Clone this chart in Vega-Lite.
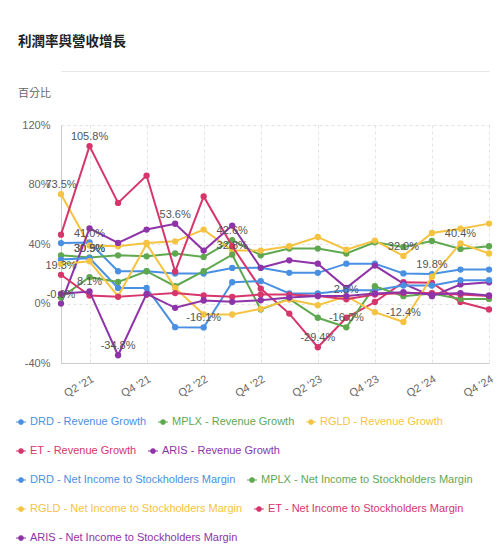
{
  "$schema": "https://vega.github.io/schema/vega-lite/v6.json",
  "width": 428,
  "height": 238,
  "autosize": {"type": "none"},
  "padding": {"left": 61, "top": 125, "right": 13, "bottom": 193},
  "background": "white",
  "title": {
    "text": "利潤率與營收增長",
    "subtitle": "百分比",
    "anchor": "start",
    "frame": "group",
    "dx": -43,
    "offset": -28,
    "font": "Noto Sans CJK TC",
    "fontSize": 13.5,
    "fontWeight": "bold",
    "color": "#222222",
    "subtitleFont": "Noto Sans CJK TC",
    "subtitleFontSize": 11,
    "subtitleColor": "#666666",
    "subtitlePadding": 40
  },
  "data": {
    "values": [
      {"q": "Q1 '21", "s": "DRD - Revenue Growth", "v": 40.6},
      {"q": "Q2 '21", "s": "DRD - Revenue Growth", "v": 41.0, "lbl": "41.0%"},
      {"q": "Q3 '21", "s": "DRD - Revenue Growth", "v": 21.7},
      {"q": "Q4 '21", "s": "DRD - Revenue Growth", "v": 21.7},
      {"q": "Q1 '22", "s": "DRD - Revenue Growth", "v": 20.1},
      {"q": "Q2 '22", "s": "DRD - Revenue Growth", "v": 20.1},
      {"q": "Q3 '22", "s": "DRD - Revenue Growth", "v": 23.9},
      {"q": "Q4 '22", "s": "DRD - Revenue Growth", "v": 24.0},
      {"q": "Q1 '23", "s": "DRD - Revenue Growth", "v": 20.6},
      {"q": "Q2 '23", "s": "DRD - Revenue Growth", "v": 20.6},
      {"q": "Q3 '23", "s": "DRD - Revenue Growth", "v": 26.8},
      {"q": "Q4 '23", "s": "DRD - Revenue Growth", "v": 26.8},
      {"q": "Q1 '24", "s": "DRD - Revenue Growth", "v": 20.2},
      {"q": "Q2 '24", "s": "DRD - Revenue Growth", "v": 19.8, "lbl": "19.8%"},
      {"q": "Q3 '24", "s": "DRD - Revenue Growth", "v": 22.8},
      {"q": "Q4 '24", "s": "DRD - Revenue Growth", "v": 22.8},

      {"q": "Q1 '21", "s": "MPLX - Revenue Growth", "v": 32.4},
      {"q": "Q2 '21", "s": "MPLX - Revenue Growth", "v": 30.9, "lbl": "30.9%"},
      {"q": "Q3 '21", "s": "MPLX - Revenue Growth", "v": 32.4},
      {"q": "Q4 '21", "s": "MPLX - Revenue Growth", "v": 31.7},
      {"q": "Q1 '22", "s": "MPLX - Revenue Growth", "v": 33.6},
      {"q": "Q2 '22", "s": "MPLX - Revenue Growth", "v": 31.3},
      {"q": "Q3 '22", "s": "MPLX - Revenue Growth", "v": 42.6, "lbl": "42.6%"},
      {"q": "Q4 '22", "s": "MPLX - Revenue Growth", "v": 32.4},
      {"q": "Q1 '23", "s": "MPLX - Revenue Growth", "v": 36.9},
      {"q": "Q2 '23", "s": "MPLX - Revenue Growth", "v": 36.9},
      {"q": "Q3 '23", "s": "MPLX - Revenue Growth", "v": 33.6},
      {"q": "Q4 '23", "s": "MPLX - Revenue Growth", "v": 41.2},
      {"q": "Q1 '24", "s": "MPLX - Revenue Growth", "v": 38.0},
      {"q": "Q2 '24", "s": "MPLX - Revenue Growth", "v": 42.0},
      {"q": "Q3 '24", "s": "MPLX - Revenue Growth", "v": 36.7},
      {"q": "Q4 '24", "s": "MPLX - Revenue Growth", "v": 38.5},

      {"q": "Q1 '21", "s": "RGLD - Revenue Growth", "v": 73.5, "lbl": "73.5%"},
      {"q": "Q2 '21", "s": "RGLD - Revenue Growth", "v": 39.0},
      {"q": "Q3 '21", "s": "RGLD - Revenue Growth", "v": 38.5},
      {"q": "Q4 '21", "s": "RGLD - Revenue Growth", "v": 40.7},
      {"q": "Q1 '22", "s": "RGLD - Revenue Growth", "v": 41.8},
      {"q": "Q2 '22", "s": "RGLD - Revenue Growth", "v": 49.7},
      {"q": "Q3 '22", "s": "RGLD - Revenue Growth", "v": 35.6},
      {"q": "Q4 '22", "s": "RGLD - Revenue Growth", "v": 35.6},
      {"q": "Q1 '23", "s": "RGLD - Revenue Growth", "v": 38.5},
      {"q": "Q2 '23", "s": "RGLD - Revenue Growth", "v": 44.7},
      {"q": "Q3 '23", "s": "RGLD - Revenue Growth", "v": 36.2},
      {"q": "Q4 '23", "s": "RGLD - Revenue Growth", "v": 42.3},
      {"q": "Q1 '24", "s": "RGLD - Revenue Growth", "v": 32.0, "lbl": "32.0%"},
      {"q": "Q2 '24", "s": "RGLD - Revenue Growth", "v": 47.4},
      {"q": "Q3 '24", "s": "RGLD - Revenue Growth", "v": 50.3},
      {"q": "Q4 '24", "s": "RGLD - Revenue Growth", "v": 53.7},

      {"q": "Q1 '21", "s": "ET - Revenue Growth", "v": 46.3},
      {"q": "Q2 '21", "s": "ET - Revenue Growth", "v": 105.8, "lbl": "105.8%"},
      {"q": "Q3 '21", "s": "ET - Revenue Growth", "v": 67.6},
      {"q": "Q4 '21", "s": "ET - Revenue Growth", "v": 86.0},
      {"q": "Q1 '22", "s": "ET - Revenue Growth", "v": 21.5},
      {"q": "Q2 '22", "s": "ET - Revenue Growth", "v": 72.0},
      {"q": "Q3 '22", "s": "ET - Revenue Growth", "v": 38.5},
      {"q": "Q4 '22", "s": "ET - Revenue Growth", "v": 10.0},
      {"q": "Q1 '23", "s": "ET - Revenue Growth", "v": -6.8},
      {"q": "Q2 '23", "s": "ET - Revenue Growth", "v": -29.4, "lbl": "-29.4%"},
      {"q": "Q3 '23", "s": "ET - Revenue Growth", "v": -9.6},
      {"q": "Q4 '23", "s": "ET - Revenue Growth", "v": 1.0},
      {"q": "Q1 '24", "s": "ET - Revenue Growth", "v": 14.3},
      {"q": "Q2 '24", "s": "ET - Revenue Growth", "v": 13.9},
      {"q": "Q3 '24", "s": "ET - Revenue Growth", "v": 1.0},
      {"q": "Q4 '24", "s": "ET - Revenue Growth", "v": -4.0},

      {"q": "Q1 '21", "s": "ARIS - Revenue Growth", "v": -0.04, "lbl": "-0.0%"},
      {"q": "Q2 '21", "s": "ARIS - Revenue Growth", "v": 50.5},
      {"q": "Q3 '21", "s": "ARIS - Revenue Growth", "v": 40.7},
      {"q": "Q4 '21", "s": "ARIS - Revenue Growth", "v": 49.7},
      {"q": "Q1 '22", "s": "ARIS - Revenue Growth", "v": 53.6, "lbl": "53.6%"},
      {"q": "Q2 '22", "s": "ARIS - Revenue Growth", "v": 35.6},
      {"q": "Q3 '22", "s": "ARIS - Revenue Growth", "v": 52.4},
      {"q": "Q4 '22", "s": "ARIS - Revenue Growth", "v": 24.0},
      {"q": "Q1 '23", "s": "ARIS - Revenue Growth", "v": 29.0},
      {"q": "Q2 '23", "s": "ARIS - Revenue Growth", "v": 26.8},
      {"q": "Q3 '23", "s": "ARIS - Revenue Growth", "v": 10.5},
      {"q": "Q4 '23", "s": "ARIS - Revenue Growth", "v": 25.5},
      {"q": "Q1 '24", "s": "ARIS - Revenue Growth", "v": 13.4},
      {"q": "Q2 '24", "s": "ARIS - Revenue Growth", "v": 4.9},
      {"q": "Q3 '24", "s": "ARIS - Revenue Growth", "v": 12.8},
      {"q": "Q4 '24", "s": "ARIS - Revenue Growth", "v": 14.3},

      {"q": "Q1 '21", "s": "DRD - Net Income to Stockholders Margin", "v": 29.5},
      {"q": "Q2 '21", "s": "DRD - Net Income to Stockholders Margin", "v": 30.5, "lbl": "30.5%"},
      {"q": "Q3 '21", "s": "DRD - Net Income to Stockholders Margin", "v": 10.5},
      {"q": "Q4 '21", "s": "DRD - Net Income to Stockholders Margin", "v": 10.5},
      {"q": "Q1 '22", "s": "DRD - Net Income to Stockholders Margin", "v": -15.9},
      {"q": "Q2 '22", "s": "DRD - Net Income to Stockholders Margin", "v": -16.1, "lbl": "-16.1%"},
      {"q": "Q3 '22", "s": "DRD - Net Income to Stockholders Margin", "v": 14.3},
      {"q": "Q4 '22", "s": "DRD - Net Income to Stockholders Margin", "v": 15.0},
      {"q": "Q1 '23", "s": "DRD - Net Income to Stockholders Margin", "v": 6.7},
      {"q": "Q2 '23", "s": "DRD - Net Income to Stockholders Margin", "v": 6.7},
      {"q": "Q3 '23", "s": "DRD - Net Income to Stockholders Margin", "v": 8.9},
      {"q": "Q4 '23", "s": "DRD - Net Income to Stockholders Margin", "v": 8.9},
      {"q": "Q1 '24", "s": "DRD - Net Income to Stockholders Margin", "v": 12.1},
      {"q": "Q2 '24", "s": "DRD - Net Income to Stockholders Margin", "v": 12.1},
      {"q": "Q3 '24", "s": "DRD - Net Income to Stockholders Margin", "v": 15.7},
      {"q": "Q4 '24", "s": "DRD - Net Income to Stockholders Margin", "v": 15.7},

      {"q": "Q1 '21", "s": "MPLX - Net Income to Stockholders Margin", "v": 4.0},
      {"q": "Q2 '21", "s": "MPLX - Net Income to Stockholders Margin", "v": 17.7},
      {"q": "Q3 '21", "s": "MPLX - Net Income to Stockholders Margin", "v": 14.5},
      {"q": "Q4 '21", "s": "MPLX - Net Income to Stockholders Margin", "v": 21.7},
      {"q": "Q1 '22", "s": "MPLX - Net Income to Stockholders Margin", "v": 11.6},
      {"q": "Q2 '22", "s": "MPLX - Net Income to Stockholders Margin", "v": 21.7},
      {"q": "Q3 '22", "s": "MPLX - Net Income to Stockholders Margin", "v": 32.8, "lbl": "32.8%"},
      {"q": "Q4 '22", "s": "MPLX - Net Income to Stockholders Margin", "v": -4.0},
      {"q": "Q1 '23", "s": "MPLX - Net Income to Stockholders Margin", "v": 3.1},
      {"q": "Q2 '23", "s": "MPLX - Net Income to Stockholders Margin", "v": -9.6},
      {"q": "Q3 '23", "s": "MPLX - Net Income to Stockholders Margin", "v": -16.0, "lbl": "-16.0%"},
      {"q": "Q4 '23", "s": "MPLX - Net Income to Stockholders Margin", "v": 11.6},
      {"q": "Q1 '24", "s": "MPLX - Net Income to Stockholders Margin", "v": 4.9},
      {"q": "Q2 '24", "s": "MPLX - Net Income to Stockholders Margin", "v": 6.7},
      {"q": "Q3 '24", "s": "MPLX - Net Income to Stockholders Margin", "v": 3.1},
      {"q": "Q4 '24", "s": "MPLX - Net Income to Stockholders Margin", "v": 3.1},

      {"q": "Q1 '21", "s": "RGLD - Net Income to Stockholders Margin", "v": 26.6},
      {"q": "Q2 '21", "s": "RGLD - Net Income to Stockholders Margin", "v": 28.4},
      {"q": "Q3 '21", "s": "RGLD - Net Income to Stockholders Margin", "v": 4.9},
      {"q": "Q4 '21", "s": "RGLD - Net Income to Stockholders Margin", "v": 40.0},
      {"q": "Q1 '22", "s": "RGLD - Net Income to Stockholders Margin", "v": 10.5},
      {"q": "Q2 '22", "s": "RGLD - Net Income to Stockholders Margin", "v": -7.4},
      {"q": "Q3 '22", "s": "RGLD - Net Income to Stockholders Margin", "v": -7.4},
      {"q": "Q4 '22", "s": "RGLD - Net Income to Stockholders Margin", "v": -3.6},
      {"q": "Q1 '23", "s": "RGLD - Net Income to Stockholders Margin", "v": 2.7},
      {"q": "Q2 '23", "s": "RGLD - Net Income to Stockholders Margin", "v": -1.1},
      {"q": "Q3 '23", "s": "RGLD - Net Income to Stockholders Margin", "v": 4.9},
      {"q": "Q4 '23", "s": "RGLD - Net Income to Stockholders Margin", "v": -5.8},
      {"q": "Q1 '24", "s": "RGLD - Net Income to Stockholders Margin", "v": -12.4, "lbl": "-12.4%"},
      {"q": "Q2 '24", "s": "RGLD - Net Income to Stockholders Margin", "v": 18.0},
      {"q": "Q3 '24", "s": "RGLD - Net Income to Stockholders Margin", "v": 40.4, "lbl": "40.4%"},
      {"q": "Q4 '24", "s": "RGLD - Net Income to Stockholders Margin", "v": 33.6},

      {"q": "Q1 '21", "s": "ET - Net Income to Stockholders Margin", "v": 19.3, "lbl": "19.3%"},
      {"q": "Q2 '21", "s": "ET - Net Income to Stockholders Margin", "v": 5.4},
      {"q": "Q3 '21", "s": "ET - Net Income to Stockholders Margin", "v": 4.5},
      {"q": "Q4 '21", "s": "ET - Net Income to Stockholders Margin", "v": 5.8},
      {"q": "Q1 '22", "s": "ET - Net Income to Stockholders Margin", "v": 7.0},
      {"q": "Q2 '22", "s": "ET - Net Income to Stockholders Margin", "v": 5.4},
      {"q": "Q3 '22", "s": "ET - Net Income to Stockholders Margin", "v": 4.5},
      {"q": "Q4 '22", "s": "ET - Net Income to Stockholders Margin", "v": 6.0},
      {"q": "Q1 '23", "s": "ET - Net Income to Stockholders Margin", "v": 6.0},
      {"q": "Q2 '23", "s": "ET - Net Income to Stockholders Margin", "v": 5.0},
      {"q": "Q3 '23", "s": "ET - Net Income to Stockholders Margin", "v": 2.8, "lbl": "2.8%"},
      {"q": "Q4 '23", "s": "ET - Net Income to Stockholders Margin", "v": 6.0},
      {"q": "Q1 '24", "s": "ET - Net Income to Stockholders Margin", "v": 7.0},
      {"q": "Q2 '24", "s": "ET - Net Income to Stockholders Margin", "v": 7.0},
      {"q": "Q3 '24", "s": "ET - Net Income to Stockholders Margin", "v": 6.0},
      {"q": "Q4 '24", "s": "ET - Net Income to Stockholders Margin", "v": 5.0},

      {"q": "Q1 '21", "s": "ARIS - Net Income to Stockholders Margin", "v": 6.5},
      {"q": "Q2 '21", "s": "ARIS - Net Income to Stockholders Margin", "v": 8.1, "lbl": "8.1%"},
      {"q": "Q3 '21", "s": "ARIS - Net Income to Stockholders Margin", "v": -34.8, "lbl": "-34.8%"},
      {"q": "Q4 '21", "s": "ARIS - Net Income to Stockholders Margin", "v": 6.5},
      {"q": "Q1 '22", "s": "ARIS - Net Income to Stockholders Margin", "v": -2.9},
      {"q": "Q2 '22", "s": "ARIS - Net Income to Stockholders Margin", "v": 2.0},
      {"q": "Q3 '22", "s": "ARIS - Net Income to Stockholders Margin", "v": 1.1},
      {"q": "Q4 '22", "s": "ARIS - Net Income to Stockholders Margin", "v": 2.2},
      {"q": "Q1 '23", "s": "ARIS - Net Income to Stockholders Margin", "v": 4.0},
      {"q": "Q2 '23", "s": "ARIS - Net Income to Stockholders Margin", "v": 5.0},
      {"q": "Q3 '23", "s": "ARIS - Net Income to Stockholders Margin", "v": 5.0},
      {"q": "Q4 '23", "s": "ARIS - Net Income to Stockholders Margin", "v": 6.7},
      {"q": "Q1 '24", "s": "ARIS - Net Income to Stockholders Margin", "v": 7.6},
      {"q": "Q2 '24", "s": "ARIS - Net Income to Stockholders Margin", "v": 6.0},
      {"q": "Q3 '24", "s": "ARIS - Net Income to Stockholders Margin", "v": 7.0},
      {"q": "Q4 '24", "s": "ARIS - Net Income to Stockholders Margin", "v": 5.4}
    ]
  },
  "encoding": {
    "y": {
      "field": "v",
      "type": "quantitative",
      "scale": {"domain": [-40, 120], "nice": false},
      "axis": {
        "title": null,
        "values": [-40, 0, 40, 80, 120],
        "labelExpr": "datum.value + '%'",
        "labelPadding": 11,
        "ticks": false,
        "grid": true
      }
    }
  },
  "layer": [
    {
      "encoding": {
        "x": {
          "field": "q",
          "type": "ordinal",
          "sort": null,
          "scale": {
            "type": "point",
            "padding": 0,
            "domain": ["Q1 '21", "Q2 '21", "Q3 '21", "Q4 '21", "Q1 '22", "Q2 '22", "Q3 '22", "Q4 '22", "Q1 '23", "Q2 '23", "Q3 '23", "Q4 '23", "Q1 '24", "Q2 '24", "Q3 '24", "Q4 '24"]
          },
          "axis": {
            "title": null,
            "values": ["Q2 '21", "Q4 '21", "Q2 '22", "Q4 '22", "Q2 '23", "Q4 '23", "Q2 '24", "Q4 '24"],
            "labelAngle": -30,
            "labelAlign": "right",
            "labelBaseline": "top",
            "labelPadding": 10,
            "ticks": false,
            "grid": true
          }
        }
      },
      "layer": [
        {
          "transform": [{"filter": {"field": "s", "oneOf": ["DRD - Revenue Growth", "MPLX - Revenue Growth", "RGLD - Revenue Growth"]}}],
          "mark": {"type": "line", "strokeWidth": 2, "point": {"filled": true, "size": 40}},
          "encoding": {
            "color": {
              "field": "s",
              "type": "nominal",
              "scale": {"domain": ["DRD - Revenue Growth", "MPLX - Revenue Growth", "RGLD - Revenue Growth"], "range": ["#4a90e2", "#5fa850", "#f5c342"]},
              "legend": {
                "legendX": -46, "legendY": 291,
                "symbolType": "M-1,0L-0.45,0M0.45,0L1,0M-0.45,0A0.45,0.45,0,1,1,0.45,0A0.45,0.45,0,1,1,-0.45,0Z",
                "encode": {
                  "symbols": {"update": {"fill": {"value": "white"}, "strokeWidth": {"value": 1.2}}},
                  "labels": {"update": {"fill": {"signal": "indexof(datum.value,'DRD')==0?'#4a90e2':indexof(datum.value,'MPLX')==0?'#5fa850':indexof(datum.value,'RGLD')==0?'#f5c342':indexof(datum.value,'ET')==0?'#d6366a':'#8e34a8'"}}}
                }
              }
            }
          }
        },
        {
          "transform": [{"filter": {"field": "s", "oneOf": ["ET - Revenue Growth", "ARIS - Revenue Growth"]}}],
          "mark": {"type": "line", "strokeWidth": 2, "point": {"filled": true, "size": 40}},
          "encoding": {
            "color": {
              "field": "s",
              "type": "nominal",
              "scale": {"domain": ["ET - Revenue Growth", "ARIS - Revenue Growth"], "range": ["#d6366a", "#8e34a8"]},
              "legend": {
                "legendX": -46, "legendY": 320,
                "symbolType": "M-1,0L-0.45,0M0.45,0L1,0M-0.45,0A0.45,0.45,0,1,1,0.45,0A0.45,0.45,0,1,1,-0.45,0Z",
                "encode": {
                  "symbols": {"update": {"fill": {"value": "white"}, "strokeWidth": {"value": 1.2}}},
                  "labels": {"update": {"fill": {"signal": "indexof(datum.value,'DRD')==0?'#4a90e2':indexof(datum.value,'MPLX')==0?'#5fa850':indexof(datum.value,'RGLD')==0?'#f5c342':indexof(datum.value,'ET')==0?'#d6366a':'#8e34a8'"}}}
                }
              }
            }
          }
        },
        {
          "transform": [{"filter": {"field": "s", "oneOf": ["DRD - Net Income to Stockholders Margin", "MPLX - Net Income to Stockholders Margin"]}}],
          "mark": {"type": "line", "strokeWidth": 2, "point": {"filled": true, "size": 40}},
          "encoding": {
            "color": {
              "field": "s",
              "type": "nominal",
              "scale": {"domain": ["DRD - Net Income to Stockholders Margin", "MPLX - Net Income to Stockholders Margin"], "range": ["#4a90e2", "#5fa850"]},
              "legend": {
                "legendX": -46, "legendY": 349,
                "symbolType": "M-1,0L-0.45,0M0.45,0L1,0M-0.45,0A0.45,0.45,0,1,1,0.45,0A0.45,0.45,0,1,1,-0.45,0Z",
                "encode": {
                  "symbols": {"update": {"fill": {"value": "white"}, "strokeWidth": {"value": 1.2}}},
                  "labels": {"update": {"fill": {"signal": "indexof(datum.value,'DRD')==0?'#4a90e2':indexof(datum.value,'MPLX')==0?'#5fa850':indexof(datum.value,'RGLD')==0?'#f5c342':indexof(datum.value,'ET')==0?'#d6366a':'#8e34a8'"}}}
                }
              }
            }
          }
        },
        {
          "transform": [{"filter": {"field": "s", "oneOf": ["RGLD - Net Income to Stockholders Margin", "ET - Net Income to Stockholders Margin"]}}],
          "mark": {"type": "line", "strokeWidth": 2, "point": {"filled": true, "size": 40}},
          "encoding": {
            "color": {
              "field": "s",
              "type": "nominal",
              "scale": {"domain": ["RGLD - Net Income to Stockholders Margin", "ET - Net Income to Stockholders Margin"], "range": ["#f5c342", "#d6366a"]},
              "legend": {
                "legendX": -46, "legendY": 378,
                "symbolType": "M-1,0L-0.45,0M0.45,0L1,0M-0.45,0A0.45,0.45,0,1,1,0.45,0A0.45,0.45,0,1,1,-0.45,0Z",
                "encode": {
                  "symbols": {"update": {"fill": {"value": "white"}, "strokeWidth": {"value": 1.2}}},
                  "labels": {"update": {"fill": {"signal": "indexof(datum.value,'DRD')==0?'#4a90e2':indexof(datum.value,'MPLX')==0?'#5fa850':indexof(datum.value,'RGLD')==0?'#f5c342':indexof(datum.value,'ET')==0?'#d6366a':'#8e34a8'"}}}
                }
              }
            }
          }
        },
        {
          "transform": [{"filter": {"field": "s", "oneOf": ["ARIS - Net Income to Stockholders Margin"]}}],
          "mark": {"type": "line", "strokeWidth": 2, "point": {"filled": true, "size": 40}},
          "encoding": {
            "color": {
              "field": "s",
              "type": "nominal",
              "scale": {"domain": ["ARIS - Net Income to Stockholders Margin"], "range": ["#8e34a8"]},
              "legend": {
                "legendX": -46, "legendY": 407,
                "symbolType": "M-1,0L-0.45,0M0.45,0L1,0M-0.45,0A0.45,0.45,0,1,1,0.45,0A0.45,0.45,0,1,1,-0.45,0Z",
                "encode": {
                  "symbols": {"update": {"fill": {"value": "white"}, "strokeWidth": {"value": 1.2}}},
                  "labels": {"update": {"fill": {"signal": "indexof(datum.value,'DRD')==0?'#4a90e2':indexof(datum.value,'MPLX')==0?'#5fa850':indexof(datum.value,'RGLD')==0?'#f5c342':indexof(datum.value,'ET')==0?'#d6366a':'#8e34a8'"}}}
                }
              }
            }
          }
        }
      ],
      "resolve": {"scale": {"color": "independent"}}
    },
    {
      "transform": [{"filter": "isValid(datum.lbl)"}],
      "mark": {"type": "text", "dy": -9, "fontSize": 11, "font": "Liberation Sans", "color": "#555555"},
      "encoding": {
        "x": {
          "field": "q",
          "type": "ordinal",
          "sort": null,
          "axis": {
            "orient": "top",
            "offset": 54,
            "title": null,
            "labels": false,
            "ticks": false,
            "grid": false,
            "domainColor": "#e6e6e6"
          }
        },
        "text": {"field": "lbl"}
      }
    }
  ],
  "resolve": {"axis": {"x": "independent"}},
  "config": {
    "view": {"stroke": null},
    "axis": {
      "labelFont": "Liberation Sans",
      "labelFontSize": 11,
      "labelColor": "#666666",
      "domainColor": "#cccccc",
      "gridColor": "#e3e3e3",
      "gridDash": [3, 3]
    },
    "legend": {
      "orient": "none",
      "direction": "horizontal",
      "title": null,
      "padding": 0,
      "columnPadding": 8,
      "labelOffset": 3,
      "labelLimit": 400,
      "labelFont": "Liberation Sans",
      "labelFontSize": 11,
      "symbolSize": 100,
      "symbolStrokeWidth": 1.2
    }
  }
}
